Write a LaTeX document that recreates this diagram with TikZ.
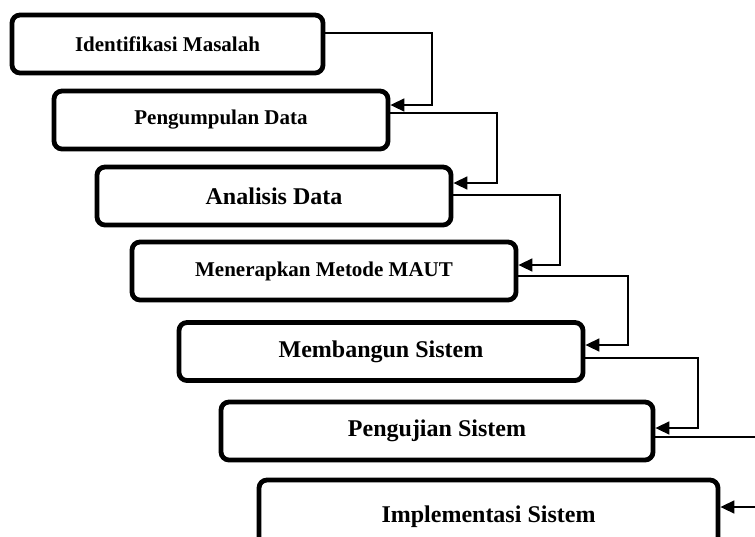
\documentclass[tikz,border=0pt]{standalone}
\usepackage{fontspec}
\setmainfont{Liberation Serif}
\usetikzlibrary{arrows.meta}
\tikzset{
  tahapbox/.style={draw, rectangle, rounded corners=8pt, line width=4.8pt,
    minimum height=58pt, inner sep=0pt, font=\bfseries},
  alur/.style={line width=1.6pt, -{Triangle[length=14pt,width=13pt]}},
  garis/.style={line width=1.6pt}
}
\begin{document}
\begin{tikzpicture}[x=1pt,y=-1pt]
            \useasboundingbox (0,0) rectangle (755,536);
            \clip (0,0) rectangle (755,536);

            \node[tahapbox, minimum width=311pt, font=\bfseries\fontsize{21}{24}\selectfont] (identifikasi) at (167.5,44) {Identifikasi Masalah};
            \node[tahapbox, minimum width=334pt, font=\bfseries\fontsize{21}{24}\selectfont] (pengumpulan) at (221,120) {Pengumpulan Data};
            \node[tahapbox, minimum width=354pt, font=\bfseries\fontsize{24}{28}\selectfont] (analisis) at (274,196) {Analisis Data};
            \node[tahapbox, minimum width=384pt, font=\bfseries\fontsize{21}{24}\selectfont] (maut) at (324,271) {Menerapkan Metode MAUT};
            \node[tahapbox, minimum width=404pt, font=\bfseries\fontsize{24}{28}\selectfont] (membangun) at (381,351.5) {Membangun Sistem};
            \node[tahapbox, minimum width=432pt, font=\bfseries\fontsize{24}{28}\selectfont] (pengujian) at (437,431) {Pengujian Sistem};
            \node[tahapbox, minimum width=459pt, minimum height=74pt, font=\bfseries\fontsize{24}{28}\selectfont] (implementasi) at (488.5,517) {Implementasi Sistem};

            % alur antar tahap
            \draw[alur] (identifikasi.east |- 0,33) -| (432,105) -- (pengumpulan.east |- 0,105);
            \draw[alur] (pengumpulan.east |- 0,113) -| (497,183) -- (analisis.east |- 0,183);
            \draw[alur] (analisis.east |- 0,195) -| (560,265) -- (maut.east |- 0,265);
            \draw[alur] (maut.east |- 0,276) -| (628,345) -- (membangun.east |- 0,345);
            \draw[alur] (membangun.east |- 0,358) -| (698,428) -- (pengujian.east |- 0,428);

            \coordinate (keluar) at (770,437);
            \coordinate (masuk) at (770,507);
            \draw[garis] (pengujian.east |- keluar) -- (keluar);
            \draw[alur] (masuk) -- (implementasi.east |- masuk);

\end{tikzpicture}
\end{document}
